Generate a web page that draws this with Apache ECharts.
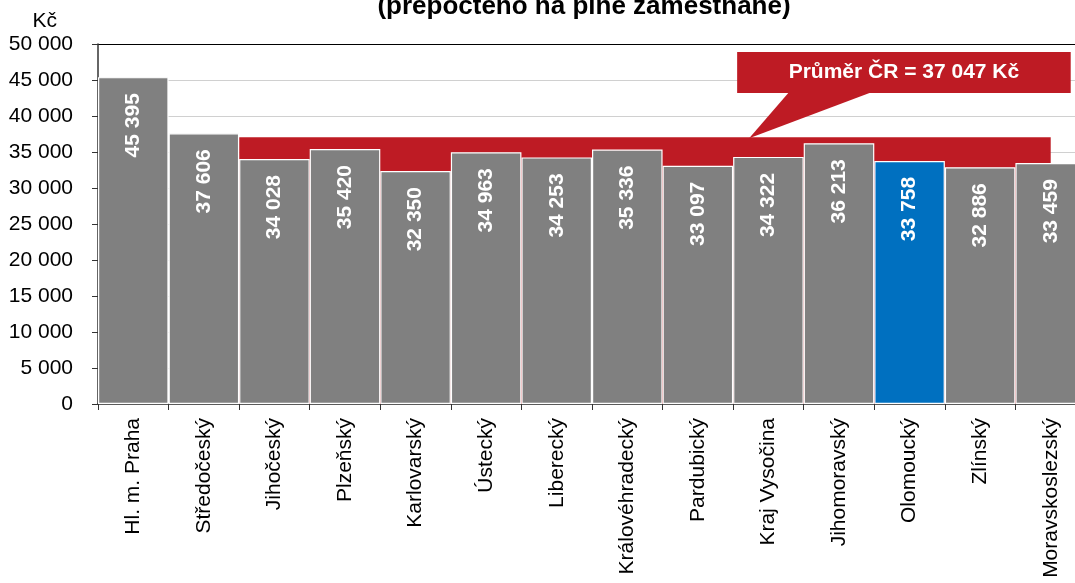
<!DOCTYPE html>
<html>
<head>
<meta charset="utf-8">
<script src="https://cdn.jsdelivr.net/npm/echarts@6/dist/echarts.min.js"></script>
<style>
  html, body { margin: 0; padding: 0; background: #fff; }
  #chart { width: 1075px; height: 583px; }
</style>
</head>
<body>
<div id="chart"></div>
<script>
// kraje
var regions = ['Hl. m. Praha', 'Středočeský', 'Jihočeský', 'Plzeňský', 'Karlovarský', 'Ústecký', 'Liberecký',
  'Královéhradecký', 'Pardubický', 'Kraj Vysočina', 'Jihomoravský', 'Olomoucký', 'Zlínský', 'Moravskoslezský'];
// průměrná mzda (Kč)
var wages = [45395, 37606, 34028, 35420, 32350, 34963, 34253, 35336, 33097, 34322, 36213, 33758, 32886, 33459];
var average = 37047;
var highlight = 'Olomoucký';
var yTicks = [0, 5000, 10000, 15000, 20000, 25000, 30000, 35000, 40000, 45000, 50000];

var FONT = '"Liberation Sans", Arial, sans-serif';
var RED = '#BE1B24';

function fmt(v) {
  return String(v).replace(/\B(?=(\d{3})+(?!\d))/g, ' ');
}

var chart = echarts.init(document.getElementById('chart'), null, { renderer: 'canvas' });

function renderAverage(params, api) {
  var bw = api.size([1, 0])[0];
  var x0 = api.coord([2, 0])[0] - bw / 2;
  var x1 = api.coord([regions.length - 1, 0])[0];
  var yTop = api.coord([0, api.value(1)])[1];
  var yBot = api.coord([0, 0])[1];
  var c9 = api.coord([9, 0])[0] - bw / 2;   // levý okraj Kraj Vysočina
  var bTop = api.coord([0, 48900])[1];
  var bBot = api.coord([0, 43200])[1];
  var bLeft = c9 + 4;
  var bRight = x1 + 20;
  return {
    type: 'group',
    children: [
      { type: 'rect', shape: { x: x0, y: yTop, width: x1 - x0, height: yBot - yTop }, style: { fill: RED } },
      { type: 'polygon', shape: { points: [[c9 + 56, bBot - 1], [c9 + 139, bBot - 1], [c9 + 16, yTop + 1]] },
        style: { fill: RED } },
      { type: 'rect', shape: { x: bLeft, y: bTop, width: bRight - bLeft, height: bBot - bTop }, style: { fill: RED } },
      { type: 'text', x: (bLeft + bRight) / 2, y: (bTop + bBot) / 2,
        style: { text: 'Průměr ČR = ' + fmt(api.value(1)) + ' Kč', fill: '#fff', font: 'bold 21px ' + FONT,
          align: 'center', verticalAlign: 'middle' } }
    ]
  };
}

var option = {
  animation: false,
  backgroundColor: '#fff',
  title: {
    text: '(přepočteno na plné zaměstnané)',
    left: 579, top: -11,
    textAlign: 'center',
    textStyle: { fontFamily: FONT, fontSize: 26, fontWeight: 'bold', color: '#000' }
  },
  grid: { left: 98, top: 44, width: 988, bottom: 179, containLabel: false, outerBoundsMode: 'none' },
  xAxis: {
    type: 'category',
    data: regions,
    axisLine: { lineStyle: { color: '#333', width: 1.5 } },
    axisTick: { show: true, length: 6, lineStyle: { color: '#333' } },
    axisLabel: { rotate: 90, margin: 14, fontFamily: FONT, fontSize: 21, color: '#000' }
  },
  yAxis: {
    type: 'value',
    min: 0, max: 50000, interval: 5000,
    name: 'Kč',
    nameLocation: 'end',
    nameGap: 12,
    nameTextStyle: { fontFamily: FONT, fontSize: 21, color: '#000', align: 'right', padding: [0, 41, 0, 0] },
    axisLine: { show: true, lineStyle: { color: '#333', width: 1.5 } },
    axisTick: { show: true, length: 6, lineStyle: { color: '#333' } },
    axisLabel: {
      margin: 25, fontFamily: FONT, fontSize: 21, color: '#000',
      formatter: function (v) { return yTicks.indexOf(v) >= 0 ? fmt(v) : ''; }
    },
    splitLine: {
      show: true,
      lineStyle: {
        color: yTicks.map(function (t, i) { return i === yTicks.length - 1 ? '#000' : '#d0d0d0'; }),
        width: 1.2
      }
    }
  },
  series: [
    {
      type: 'custom',
      z: 1,
      renderItem: renderAverage,
      data: [[0, average]],
      encode: { x: 0, y: 1 },
      silent: true,
      clip: false
    },
    {
      type: 'bar',
      z: 3,
      barCategoryGap: '0%',
      data: wages.map(function (v, i) {
        return {
          value: v,
          itemStyle: { color: regions[i] === highlight ? '#0070C0' : '#808080' }
        };
      }),
      itemStyle: { borderColor: '#fff', borderWidth: 1.2 },
      label: {
        show: true,
        position: 'insideTop',
        distance: 16,
        rotate: 90,
        align: 'right',
        verticalAlign: 'middle',
        fontFamily: FONT,
        fontSize: 21,
        fontWeight: 'bold',
        color: '#fff',
        formatter: function (p) { return fmt(p.value); }
      }
    }
  ]
};

chart.setOption(option);
</script>
</body>
</html>
